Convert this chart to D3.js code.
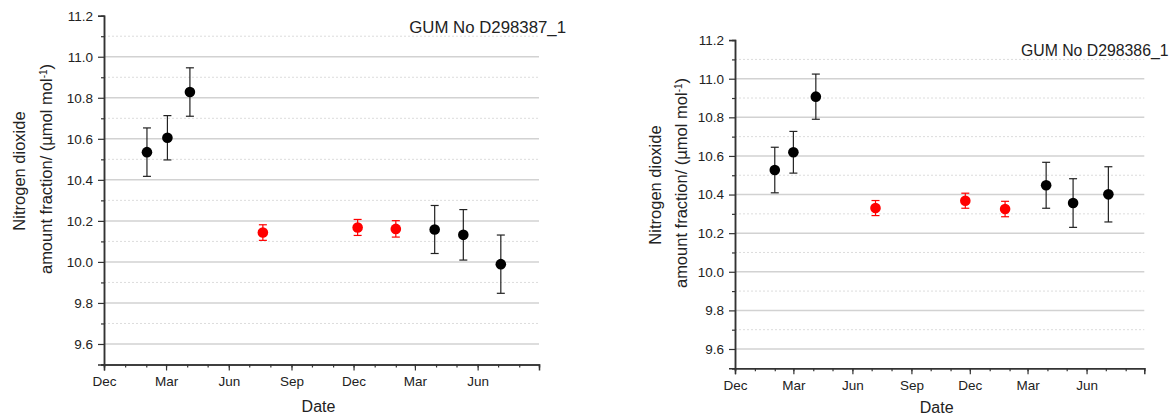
<!DOCTYPE html>
<html>
<head>
<meta charset="utf-8">
<script src="https://cdn.jsdelivr.net/npm/d3@7"></script>
<style>
  html, body { margin: 0; padding: 0; background: #fff; }
  svg { display: block; }
  text { font-family: Arial, "Liberation Sans", sans-serif; fill: #222; }
</style>
</head>
<body>
<svg id="chart" width="1173" height="415"></svg>
<script>
// ---------------- data ----------------
const xDomain = ["2019-12-01", "2021-08-30"];
const yDomain = [9.5, 11.2];
const yMajorTicks = [9.6, 9.8, 10.0, 10.2, 10.4, 10.6, 10.8, 11.0, 11.2];
const yMinorTicks = [9.5, 9.7, 9.9, 10.1, 10.3, 10.5, 10.7, 10.9, 11.1];
const xMajorTicks = ["2019-12-01", "2020-03-01", "2020-06-01", "2020-09-01", "2020-12-01", "2021-03-01", "2021-06-01"];

const leftTitle = "GUM No D298387_1";
const leftDates = ["2020-02-02", "2020-03-03", "2020-04-05", "2020-07-21", "2020-12-07", "2021-02-01", "2021-03-30", "2021-05-11", "2021-07-05"];
const leftValues = [10.535, 10.605, 10.828, 10.143, 10.168, 10.161, 10.158, 10.132, 9.989];
const leftErrors = [0.118, 0.108, 0.118, 0.038, 0.039, 0.040, 0.117, 0.123, 0.142];
const leftGroups = ["black", "black", "black", "red", "red", "red", "black", "black", "black"];

const rightTitle = "GUM No D298386_1";
const rightDates = ["2020-02-01", "2020-03-01", "2020-04-05", "2020-07-07", "2020-11-24", "2021-01-25", "2021-03-30", "2021-05-11", "2021-07-05"];
const rightValues = [10.527, 10.619, 10.907, 10.330, 10.368, 10.325, 10.448, 10.356, 10.401];
const rightErrors = [0.118, 0.108, 0.117, 0.039, 0.039, 0.040, 0.119, 0.126, 0.143];
const rightGroups = ["black", "black", "black", "red", "red", "red", "black", "black", "black"];

const xLabel = "Date";
const yLabelLine1 = "Nitrogen dioxide";

// ---------------- drawing ----------------
const parse = d3.utcParse("%Y-%m-%d");
const svg = d3.select("#chart");
const groupColor = { black: "#000000", red: "#ff0000" };
const barColor = { black: "#222222", red: "#ff0000" };
const FONT = "Arial, 'Liberation Sans', sans-serif";

function drawPanel(cfg) {
  const { left, right, top, bottom, dates, values, errors, groups, title, titleX, titleY, ylx1, ylx2, yly } = cfg;
  const g = svg.append("g");
  const x = d3.scaleUtc().domain(xDomain.map(parse)).range([left, right]);
  const y = d3.scaleLinear().domain(yDomain).range([bottom, top]);

  // grid
  g.selectAll("line.minor").data(yMinorTicks.filter(v => v > yDomain[0])).join("line")
    .attr("x1", left).attr("x2", right)
    .attr("y1", d => y(d)).attr("y2", d => y(d))
    .attr("stroke", "#dcdcdc").attr("stroke-width", 1).attr("stroke-dasharray", "2,2");
  g.selectAll("line.major").data(yMajorTicks.filter(v => v < yDomain[1])).join("line")
    .attr("x1", left).attr("x2", right)
    .attr("y1", d => y(d)).attr("y2", d => y(d))
    .attr("stroke", "#d2d2d2").attr("stroke-width", 1.5);

  // y axis
  const yAxis = g.append("g").attr("transform", `translate(${left},0)`)
    .call(d3.axisLeft(y).tickValues(yMajorTicks).tickFormat(d3.format(".1f")).tickSize(6).tickPadding(5));
  yAxis.append("g").call(d3.axisLeft(y).tickValues(yMinorTicks).tickFormat("").tickSize(3));
  yAxis.selectAll(".domain").attr("stroke", "#333").attr("stroke-width", 1.5);
  yAxis.selectAll(".tick line").attr("stroke", "#333").attr("stroke-width", 1.2);
  yAxis.selectAll("text").attr("font-size", 13.5).attr("fill", "#222").attr("font-family", FONT);

  // x axis
  const xAxis = g.append("g").attr("transform", `translate(0,${bottom})`)
    .call(d3.axisBottom(x).tickValues(xMajorTicks.map(parse)).tickFormat(d3.utcFormat("%b")).tickSize(6).tickPadding(6));
  xAxis.append("g").call(d3.axisBottom(x).ticks(d3.utcMonth.every(1)).tickFormat("").tickSize(3));
  xAxis.selectAll(".domain").attr("stroke", "#333").attr("stroke-width", 1.5);
  xAxis.selectAll(".tick line").attr("stroke", "#333").attr("stroke-width", 1.2);
  xAxis.selectAll("text").attr("font-size", 13.5).attr("fill", "#222").attr("font-family", FONT);

  // data
  const data = dates.map((d, i) => ({ date: parse(d), v: values[i], e: errors[i], grp: groups[i] }));
  const pts = g.append("g");
  const cap = 4;
  pts.selectAll("line.err").data(data).join("line")
    .attr("x1", d => x(d.date)).attr("x2", d => x(d.date))
    .attr("y1", d => y(d.v + d.e)).attr("y2", d => y(d.v - d.e))
    .attr("stroke", d => barColor[d.grp]).attr("stroke-width", 1.2);
  pts.selectAll("line.capt").data(data).join("line")
    .attr("x1", d => x(d.date) - cap).attr("x2", d => x(d.date) + cap)
    .attr("y1", d => y(d.v + d.e)).attr("y2", d => y(d.v + d.e))
    .attr("stroke", d => barColor[d.grp]).attr("stroke-width", 1.2);
  pts.selectAll("line.capb").data(data).join("line")
    .attr("x1", d => x(d.date) - cap).attr("x2", d => x(d.date) + cap)
    .attr("y1", d => y(d.v - d.e)).attr("y2", d => y(d.v - d.e))
    .attr("stroke", d => barColor[d.grp]).attr("stroke-width", 1.2);
  pts.selectAll("circle").data(data).join("circle")
    .attr("cx", d => x(d.date)).attr("cy", d => y(d.v)).attr("r", 5.3)
    .attr("fill", d => groupColor[d.grp]);

  // titles & labels
  g.append("text").attr("x", titleX).attr("y", titleY).attr("text-anchor", "end")
    .attr("font-size", cfg.titleSize).text(title);
  g.append("text").attr("x", (left + right) / 2 - 3).attr("y", cfg.xLabelY).attr("text-anchor", "middle")
    .attr("font-size", 16).text(xLabel);

  g.append("text").attr("transform", `translate(${ylx1},${yly}) rotate(-90)`)
    .attr("text-anchor", "middle").attr("dy", "0.35em").attr("font-size", 16.5).text(yLabelLine1);
  const yl2 = g.append("text").attr("transform", `translate(${ylx2},${yly - 2}) rotate(-90)`)
    .attr("text-anchor", "middle").attr("dy", "0.35em").attr("font-size", 16.5);
  yl2.append("tspan").text("amount fraction/ (");
  yl2.append("tspan").attr("font-family", "'DejaVu Sans', sans-serif").attr("font-size", 15).text("\u03bc");
  yl2.append("tspan").text("mol mol");
  yl2.append("tspan").attr("font-size", 10).attr("dy", "-0.45em").text("-1");
  yl2.append("tspan").attr("dy", "0.28em").text(")");
}

drawPanel({
  left: 104, right: 539, top: 15.7, bottom: 364.5,
  dates: leftDates, values: leftValues, errors: leftErrors, groups: leftGroups,
  title: leftTitle, titleX: 566, titleY: 33, titleSize: 16.8, xLabelY: 412,
  ylx1: 19.5, ylx2: 46, yly: 171
});
drawPanel({
  left: 735, right: 1144.3, top: 40.1, bottom: 368.3,
  dates: rightDates, values: rightValues, errors: rightErrors, groups: rightGroups,
  title: rightTitle, titleX: 1168.5, titleY: 56, titleSize: 15.8, xLabelY: 412.5,
  ylx1: 655, ylx2: 681, yly: 185
});
</script>
</body>
</html>
